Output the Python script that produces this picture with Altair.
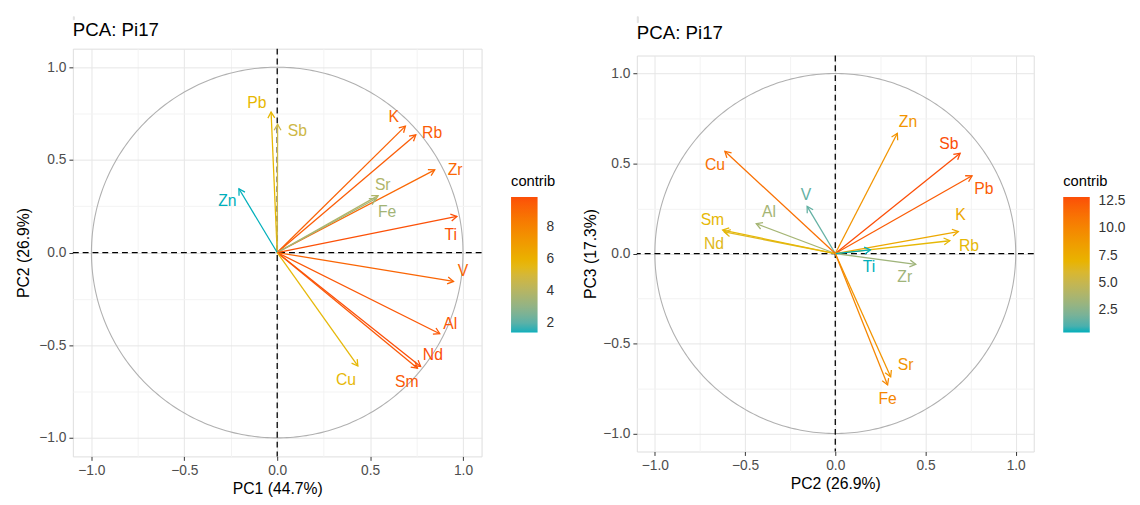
import math
import numpy as np
import pandas as pd
import altair as alt

# ---------------- data ----------------
variables = ["Pb", "Sb", "K", "Rb", "Zr", "Sr", "Fe", "Ti", "Zn", "V", "Al", "Nd", "Sm", "Cu"]
pc1 = [-0.033, 0.002, 0.690, 0.746, 0.848, 0.543, 0.530, 0.967, -0.206, 0.949, 0.875, 0.772, 0.755, 0.434]
pc2 = [0.758, 0.692, 0.682, 0.635, 0.446, 0.307, 0.290, 0.195, 0.344, -0.156, -0.438, -0.615, -0.624, -0.612]
pc3 = [0.432, 0.557, 0.122, 0.071, -0.060, -0.685, -0.730, 0.020, 0.668, 0.262, 0.166, 0.120, 0.130, 0.568]
contrib_12 = [5.7, 4.75, 9.3, 9.5, 9.1, 3.85, 3.5, 9.85, 1.4, 9.2, 9.6, 9.9, 9.6, 5.6]
contrib_23 = [12.3, 12.9, 7.8, 6.6, 3.3, 9.1, 10.0, 0.4, 9.1, 1.5, 3.55, 6.3, 6.6, 11.3]

# label placement (ggrepel result, in data units)
lab12 = {"Pb": (-0.110, 0.806), "Sb": (0.109, 0.654), "K": (0.627, 0.731), "Rb": (0.834, 0.643),
         "Zr": (0.958, 0.447), "Sr": (0.568, 0.362), "Fe": (0.592, 0.216), "Ti": (0.934, 0.095),
         "Zn": (-0.268, 0.276), "V": (1.000, -0.099), "Al": (0.931, -0.387), "Nd": (0.838, -0.552),
         "Sm": (0.697, -0.697), "Cu": (0.370, -0.688)}
lab23 = {"Pb": (0.823, 0.359), "Sb": (0.630, 0.608), "K": (0.694, 0.213), "Rb": (0.741, 0.044),
         "Zr": (0.385, -0.129), "Sr": (0.390, -0.621), "Fe": (0.290, -0.807), "Ti": (0.187, -0.075),
         "Zn": (0.403, 0.731), "V": (-0.163, 0.322), "Al": (-0.367, 0.231), "Nd": (-0.672, 0.053),
         "Sm": (-0.681, 0.184), "Cu": (-0.667, 0.493)}

FONT = "Liberation Sans"
PAL = ["#00AFBB", "#E7B800", "#FC4E07"]
ARROW = "M-0.5,0.866L0,0L0.5,0.866"
MAJ = "abs(datum.value*2 - round(datum.value*2)) < 0.000001"
TICKS = [-1.0, -0.75, -0.5, -0.25, 0.0, 0.25, 0.5, 0.75, 1.0]

t = np.linspace(0, 2 * math.pi, 361)
circle_df = pd.DataFrame({"cx": np.cos(t), "cy": np.sin(t), "t": np.arange(len(t))})
zero_df = pd.DataFrame({"z": [0.0]})


def make_df(xs, ys, cs, labs):
    df = pd.DataFrame({"var": variables, "x": xs, "y": ys, "contrib": cs})
    df["ox"] = 0.0
    df["oy"] = 0.0
    df["ang"] = [(90 - math.degrees(math.atan2(b, a))) % 360 for a, b in zip(xs, ys)]
    df["lx"] = [labs[v][0] for v in variables]
    df["ly"] = [labs[v][1] for v in variables]
    return df


def axis(title_pad):
    return alt.Axis(
        values=TICKS,
        labelExpr=f"{MAJ} ? format(datum.value, '.1f') : ''",
        domain=False,
        tickSize=4, tickWidth=1, tickColor="#333333",
        tickOpacity={"condition": {"test": MAJ, "value": 1}, "value": 0},
        gridColor={"condition": {"test": MAJ, "value": "#e6e6e6"}, "value": "#f3f3f3"},
        labelColor="#4d4d4d", labelFontSize=14, labelFont=FONT, labelPadding=3,
        labelFlush=False, labelOverlap=False,
        titleFont=FONT, titleFontSize=16, titleFontWeight="normal", titleColor="black",
        titlePadding=title_pad,
    )


def panel(df, xtitle, ytitle, w, h, lvals, lfmt, lx, ly, toff, ytpad):
    xs = alt.Scale(domain=[-1.1, 1.1], nice=False, zero=False)
    ys = alt.Scale(domain=[-1.1, 1.1], nice=False, zero=False)
    cscale = alt.Scale(range=PAL, interpolate="lab")
    color_leg = alt.Color(
        "contrib:Q", scale=cscale,
        legend=alt.Legend(
            type="gradient", title="contrib", orient="none", legendX=lx, legendY=ly,
            values=lvals, format=lfmt, direction="vertical",
            gradientLength=138, gradientThickness=27, gradientStrokeWidth=0,
            titleFont=FONT, titleFontSize=15, titleFontWeight="normal", titleColor="black",
            titlePadding=8, labelFont=FONT, labelFontSize=14, labelColor="#333333",
            labelOffset=9,
        ),
    )
    color_nol = alt.Color("contrib:Q", scale=cscale, legend=None)
    circ = alt.Chart(circle_df).mark_line(color="#b0b0b0", strokeWidth=1.1).encode(
        x=alt.X("cx:Q", scale=xs, axis=axis(4), title=xtitle),
        y=alt.Y("cy:Q", scale=ys, axis=axis(ytpad), title=ytitle),
        order="t:Q",
    )
    vline = alt.Chart(zero_df).mark_rule(color="black", strokeDash=[6, 4], strokeWidth=1.3).encode(
        x=alt.X("z:Q", scale=xs))
    hline = alt.Chart(zero_df).mark_rule(color="black", strokeDash=[6, 4], strokeWidth=1.3).encode(
        y=alt.Y("z:Q", scale=ys))
    base = alt.Chart(df)
    shafts = base.mark_rule(strokeWidth=1.3).encode(
        x=alt.X("ox:Q", scale=xs), y=alt.Y("oy:Q", scale=ys),
        x2="x:Q", y2="y:Q", color=color_leg)
    heads = base.mark_point(shape=ARROW, filled=False, size=196, strokeWidth=1.3, opacity=1).encode(
        x=alt.X("x:Q", scale=xs), y=alt.Y("y:Q", scale=ys),
        angle=alt.Angle("ang:Q", scale=None), color=color_nol)
    labels = base.mark_text(font=FONT, fontSize=16, align="center", baseline="middle").encode(
        x=alt.X("lx:Q", scale=xs), y=alt.Y("ly:Q", scale=ys), text="var:N", color=color_nol)
    return alt.layer(circ, vline, hline, shafts, heads, labels).resolve_legend(
        color="independent").properties(
        width=w, height=h,
        title=alt.TitleParams("PCA: Pi17", anchor="start", frame="group", font=FONT,
                              fontSize=19, fontWeight="normal", color="black", offset=toff),
    )


def spacer(h):
    # empty strip that shifts a panel down inside the row
    return alt.Chart(zero_df).mark_point(opacity=0, size=1).encode(
        x=alt.X("z:Q", axis=None), y=alt.Y("z:Q", axis=None)).properties(width=1, height=h)


df12 = make_df(pc1, pc2, contrib_12, lab12)
df23 = make_df(pc2, pc3, contrib_23, lab23)

left = panel(df12, "PC1 (44.7%)", "PC2 (26.9%)", 416, 415, [2, 4, 6, 8], "d", 446, 128, 8, 7)
right = panel(df23, "PC2 (26.9%)", "PC3 (17.3%)", 404, 403, [2.5, 5, 7.5, 10, 12.5], ".1f", 434, 121, 12, 4)

left_col = alt.vconcat(spacer(3), left, spacing=0)
right_col = alt.vconcat(spacer(6), right, spacing=0)

chart = alt.hconcat(left_col, right_col, spacing=25).resolve_scale(color="independent").configure_view(
    stroke=None).configure(padding={"left": 7, "top": 3, "right": 5, "bottom": 0})

chart.save("out.html", embed_options={"renderer": "svg", "actions": False})
